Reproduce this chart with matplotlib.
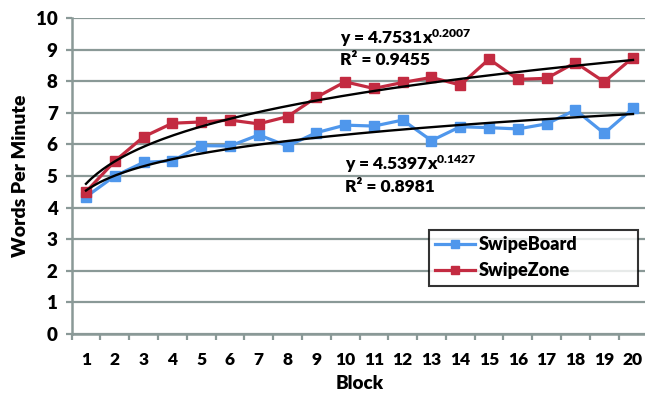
import numpy as np
import matplotlib.pyplot as plt
from matplotlib.ticker import MultipleLocator, FixedLocator

plt.rcParams['font.family'] = ['Lato', 'DejaVu Sans']
plt.rcParams['font.weight'] = 'heavy'
plt.rcParams['mathtext.fontset'] = 'custom'
plt.rcParams['mathtext.rm'] = 'Lato:heavy'
plt.rcParams['mathtext.it'] = 'Lato:heavy'
plt.rcParams['mathtext.bf'] = 'Lato:heavy'

blocks = np.arange(1, 21)
swipeboard = [4.34, 5.00, 5.43, 5.48, 5.96, 5.95, 6.30, 5.95, 6.37, 6.61,
              6.58, 6.77, 6.12, 6.56, 6.53, 6.49, 6.65, 7.09, 6.35, 7.14]
swipezone = [4.50, 5.47, 6.24, 6.67, 6.71, 6.77, 6.65, 6.88, 7.49, 7.98,
             7.77, 7.96, 8.12, 7.88, 8.70, 8.06, 8.09, 8.59, 7.98, 8.75]

# power trendlines as printed on the chart
fit_board = (4.5397, 0.1427, 0.8981)
fit_zone = (4.7531, 0.2007, 0.9455)

blue = '#4f97ec'
red = '#c32b41'
grid_c = '#8a9997'

fig = plt.figure(figsize=(6.45, 3.94), dpi=100)
W, H = 645, 394
ax = fig.add_axes([71.6 / W, 1 - 334 / H, (647.4 - 71.6) / W, (334 - 18) / H])

ax.set_xlim(0.5, 20.5)
ax.set_ylim(0, 10)
ax.yaxis.set_major_locator(MultipleLocator(1))
ax.grid(axis='y', color=grid_c, lw=1.6, zorder=0)
ax.set_axisbelow(True)

ax.plot(blocks, swipeboard, color=blue, lw=2.3, marker='s', ms=6.5, label='SwipeBoard', zorder=3)
ax.plot(blocks, swipezone, color=red, lw=2.3, marker='s', ms=6.5, label='SwipeZone', zorder=3)

xs = np.linspace(1, 20, 200)
for a, b, _ in (fit_board, fit_zone):
    ax.plot(xs, a * xs ** b, color='black', lw=1.7, zorder=4)

ax.text(9.82, 9.37, 'y = %.4fx$^{%.4f}$' % (fit_zone[0], fit_zone[1]), fontsize=12.5, va='center', zorder=5)
ax.text(9.82, 8.67, 'R² = %.4f' % fit_zone[2], fontsize=12.5, va='center', zorder=5)
ax.text(9.99, 5.38, 'y = %.4fx$^{%.4f}$' % (fit_board[0], fit_board[1]), fontsize=12.5, va='center', zorder=5)
ax.text(9.99, 4.65, 'R² = %.4f' % fit_board[2], fontsize=12.5, va='center', zorder=5)

for s in ['top', 'right']:
    ax.spines[s].set_visible(False)
for s in ['left', 'bottom']:
    ax.spines[s].set_color(grid_c)
    ax.spines[s].set_linewidth(1.8)

ax.set_xticks(blocks)
ax.xaxis.set_minor_locator(FixedLocator(np.arange(0.5, 21, 1)))
ax.tick_params(axis='x', which='major', length=0, pad=13, labelsize=12.5)
ax.tick_params(axis='x', which='minor', length=4, width=1.6, color=grid_c)
ax.tick_params(axis='y', length=4, width=1.6, color=grid_c, pad=6, labelsize=13.5)

ax.set_xlabel('Block', fontsize=13.5, fontweight='heavy', labelpad=5)
ax.set_ylabel('Words Per Minute', fontsize=14, fontweight='heavy', labelpad=5)

aw, ah = 647.4 - 71.6, 316
leg = ax.legend(loc='upper left',
                bbox_to_anchor=((429 - 71.6) / aw, (334 - 288) / ah, (638 - 429) / aw, 58 / ah),
                mode='expand',
                fontsize=13, frameon=True, fancybox=False, edgecolor='black',
                borderpad=0.35, handlelength=2.2, handletextpad=0.2, labelspacing=0.5,
                borderaxespad=0)
leg.get_frame().set_linewidth(1.5)
for h in leg.legend_handles:
    h.set_markersize(5.5)

fig.savefig('out.png', dpi=100)
